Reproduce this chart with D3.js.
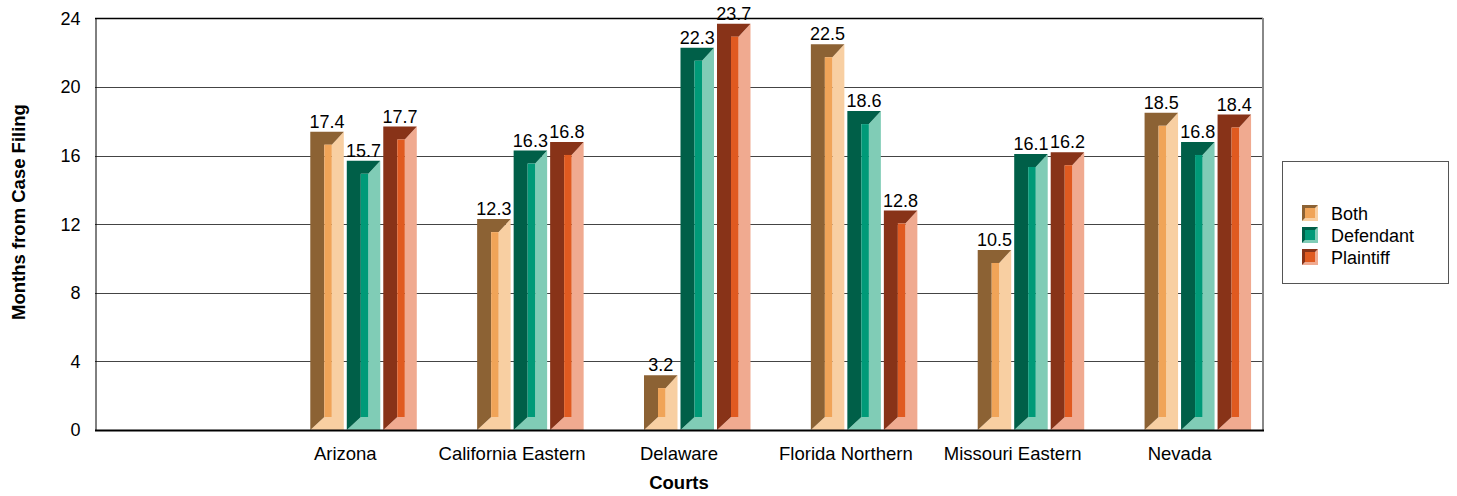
<!DOCTYPE html>
<meta charset="utf-8">
<head>
<style>
body { margin: 0; background: #fff; }
text { font-family: Arial, "Liberation Sans", sans-serif; fill: #000; }
.tick-label { font-size: 18px; }
.cat-label { font-size: 18.5px; }
.val-label { font-size: 18px; }
.axis-title { font-size: 18.5px; font-weight: bold; }
.legend text { font-size: 18px; }
</style>
</head>
<body>
<div id="chart"></div>
<script src="https://d3js.org/d3.v7.min.js"></script>
<script>

// data
var courts = ["", "Arizona", "California Eastern", "Delaware", "Florida Northern", "Missouri Eastern", "Nevada"];
var series = ["Both", "Defendant", "Plaintiff"];
var both      = [17.4, 12.3, 3.2, 22.5, 10.5, 18.5];
var defendant = [15.7, 16.3, 22.3, 18.6, 16.1, 16.8];
var plaintiff = [17.7, 16.8, 23.7, 12.8, 16.2, 18.4];
var yTicks = [0, 4, 8, 12, 16, 20, 24];

// colours per series: dark (left/top bevel), face, pale (right/bottom bevel)
var palette = {
  "Both":      {dark: "#8c6234", face: "#f0a458", pale: "#f8cfa2"},
  "Defendant": {dark: "#005f48", face: "#009a78", pale: "#80ccb6"},
  "Plaintiff": {dark: "#883318", face: "#e05a20", pale: "#f0aa90"}
};

var W = 1457, H = 496;
var plot = {left: 95, right: 1263, top: 18.5, bottom: 430};

var svg = d3.select("#chart").append("svg")
    .attr("width", W)
    .attr("height", H);

var x = d3.scaleBand()
    .domain(courts)
    .range([plot.left, plot.right])
    .padding(0);

var xSub = d3.scaleBand()
    .domain(series)
    .range([0, 106.5])
    .paddingInner(0.082);

var y = d3.scaleLinear()
    .domain([0, 24])
    .range([plot.bottom, plot.top]);

// gridlines
svg.append("g")
  .selectAll("line")
  .data(yTicks.filter(function(d) { return d > 0 && d < 24; }))
  .enter()
  .append("line")
    .attr("x1", plot.left)
    .attr("x2", plot.right)
    .attr("y1", function(d) { return Math.round(y(d)) + 0.5; })
    .attr("y2", function(d) { return Math.round(y(d)) + 0.5; })
    .attr("stroke", "#444")
    .attr("stroke-width", 1);

// frame: top black, right grey
svg.append("line")
    .attr("x1", plot.left).attr("x2", plot.right)
    .attr("y1", plot.top).attr("y2", plot.top)
    .attr("stroke", "#000").attr("stroke-width", 1.5);
svg.append("line")
    .attr("x1", plot.right).attr("x2", plot.right)
    .attr("y1", plot.top - 0.5).attr("y2", plot.bottom)
    .attr("stroke", "#888").attr("stroke-width", 2);

// y axis
var yAxis = svg.append("g")
    .attr("transform", "translate(" + (plot.left + 0.5) + ",0)")
    .call(d3.axisLeft(y).tickValues(yTicks).tickSize(0).tickPadding(15));
yAxis.select(".domain").attr("stroke", "#000");
yAxis.selectAll("text")
    .attr("class", "tick-label")
    .attr("font-size", null)
    .attr("font-family", null);

// build flat bar list
var valuesBySeries = {"Both": both, "Defendant": defendant, "Plaintiff": plaintiff};
var bars = [];
courts.slice(1).forEach(function(c, i) {
  series.forEach(function(s) {
    bars.push({court: c, series: s, value: valuesBySeries[s][i]});
  });
});

var bevL = 14, bevR = 12, bevT = 13, bevB = 13;

function pts(a) { return a.map(function(p) { return p.join(","); }).join(" "); }

var barG = svg.append("g")
  .selectAll("g")
  .data(bars)
  .enter()
  .append("g");

barG.each(function(d) {
  var g = d3.select(this);
  var x0 = x(d.court) + x.bandwidth() / 2 - 35 + xSub(d.series);
  var x1 = x0 + xSub.bandwidth();
  var y0 = y(d.value), y1 = y(0);
  var fx0 = x0 + bevL, fx1 = x1 - bevR, fy0 = y0 + bevT, fy1 = y1 - bevB;
  var c = palette[d.series];

  g.append("polygon")
    .attr("points", pts([[x1, y0], [x1, y1], [x0, y1], [fx0, fy1], [fx1, fy1], [fx1, fy0]]))
    .attr("fill", c.pale);
  g.append("polygon")
    .attr("points", pts([[x0, y1], [x0, y0], [x1, y0], [fx1, fy0], [fx0, fy0], [fx0, fy1]]))
    .attr("fill", c.dark);
  g.append("rect")
    .attr("x", fx0).attr("y", fy0)
    .attr("width", fx1 - fx0).attr("height", fy1 - fy0)
    .attr("fill", c.face);

  g.append("text")
    .attr("class", "val-label")
    .attr("x", (x0 + x1) / 2)
    .attr("y", y0 - 4)
    .attr("text-anchor", "middle")
    .text(d.value.toFixed(1));
});

// x axis baseline
svg.append("line")
    .attr("x1", plot.left).attr("x2", plot.right + 1)
    .attr("y1", plot.bottom + 0.5).attr("y2", plot.bottom + 0.5)
    .attr("stroke", "#000").attr("stroke-width", 2);

// category labels
svg.append("g")
  .selectAll("text")
  .data(courts.slice(1))
  .enter()
  .append("text")
    .attr("class", "cat-label")
    .attr("x", function(d) { return x(d) + x.bandwidth() / 2; })
    .attr("y", 460)
    .attr("text-anchor", "middle")
    .text(function(d) { return d; });

// axis titles
svg.append("text")
    .attr("class", "axis-title")
    .attr("transform", "translate(25,212) rotate(-90)")
    .attr("text-anchor", "middle")
    .text("Months from Case Filing");
svg.append("text")
    .attr("class", "axis-title")
    .attr("x", x("Delaware") + x.bandwidth() / 2)
    .attr("y", 489)
    .attr("text-anchor", "middle")
    .text("Courts");

// legend
var legend = svg.append("g").attr("class", "legend");
legend.append("rect")
    .attr("x", 1282.5).attr("y", 161.5)
    .attr("width", 166).attr("height", 122)
    .attr("fill", "#fff")
    .attr("stroke", "#555")
    .attr("stroke-width", 1);

var sw = 16, sb = 3;
var item = legend.selectAll(".item")
  .data(series)
  .enter()
  .append("g")
    .attr("class", "item")
    .attr("transform", function(d, i) { return "translate(1302," + (205 + i * 22) + ")"; });

item.append("polygon")
    .attr("points", pts([[sw, 0], [sw, sw], [0, sw], [sb, sw - sb], [sw - sb, sw - sb], [sw - sb, sb]]))
    .attr("fill", function(d) { return palette[d].pale; });
item.append("polygon")
    .attr("points", pts([[0, sw], [0, 0], [sw, 0], [sw - sb, sb], [sb, sb], [sb, sw - sb]]))
    .attr("fill", function(d) { return palette[d].dark; });
item.append("rect")
    .attr("x", sb).attr("y", sb)
    .attr("width", sw - 2 * sb).attr("height", sw - 2 * sb)
    .attr("fill", function(d) { return palette[d].face; });
item.append("text")
    .attr("x", 29)
    .attr("y", 15)
    .text(function(d) { return d; });

</script>
</body>
